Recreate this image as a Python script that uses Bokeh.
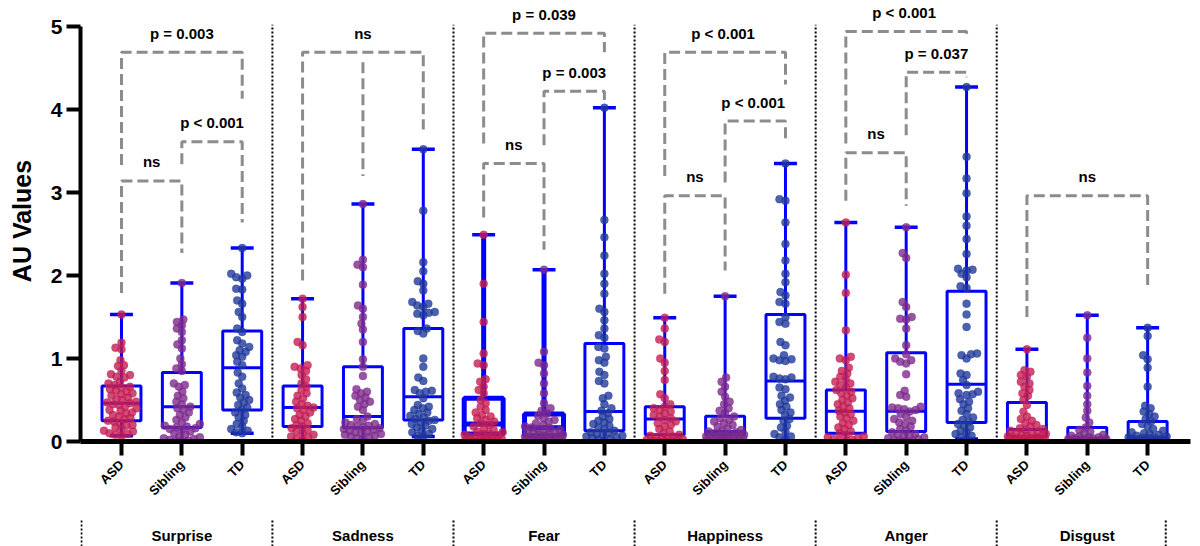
import math
from bokeh.plotting import figure
from bokeh.models import Range1d, FixedTicker
from bokeh.layouts import column
from bokeh.embed import file_html
from bokeh.resources import INLINE
from bokeh.core.properties import value

# ---------------- data ----------------
emotions = ["Surprise", "Sadness", "Fear", "Happiness", "Anger", "Disgust"]
cohorts = ["ASD", "Sibling", "TD"]

surprise_asd = [1.53, 1.19, 1.13, 1.11, 0.98, 0.92, 0.91, 0.85, 0.81, 0.80, 0.78, 0.77, 0.72, 0.70, 0.68, 0.66, 0.65, 0.63, 0.61, 0.60, 0.58, 0.57, 0.55, 0.53, 0.51, 0.50, 0.48, 0.47, 0.46, 0.45, 0.44, 0.42, 0.40, 0.38, 0.37, 0.35, 0.34, 0.32, 0.30, 0.28, 0.27, 0.25, 0.24, 0.22, 0.20, 0.19, 0.17, 0.15, 0.13, 0.12, 0.10, 0.09, 0.08, 0.07]
surprise_sib = [1.91, 1.47, 1.44, 1.40, 1.36, 1.32, 1.22, 1.17, 1.12, 1.00, 0.93, 0.88, 0.85, 0.70, 0.68, 0.66, 0.60, 0.55, 0.52, 0.48, 0.45, 0.42, 0.40, 0.38, 0.35, 0.32, 0.29, 0.26, 0.23, 0.21, 0.19, 0.18, 0.17, 0.16, 0.15, 0.14, 0.12, 0.10, 0.08, 0.06, 0.05, 0.04, 0.03, 0.02, 0.01, 0.01, 0.0]
surprise_td = [2.33, 2.02, 2.00, 1.98, 1.96, 1.84, 1.83, 1.70, 1.66, 1.56, 1.50, 1.36, 1.32, 1.22, 1.18, 1.14, 1.10, 1.08, 1.04, 1.02, 0.96, 0.92, 0.83, 0.78, 0.70, 0.64, 0.59, 0.56, 0.53, 0.50, 0.47, 0.44, 0.41, 0.38, 0.35, 0.32, 0.29, 0.25, 0.21, 0.18, 0.15, 0.13, 0.11, 0.10]

sadness_asd = [1.72, 1.62, 1.50, 1.20, 1.16, 0.92, 0.90, 0.88, 0.85, 0.80, 0.75, 0.70, 0.66, 0.62, 0.58, 0.55, 0.52, 0.48, 0.45, 0.43, 0.41, 0.40, 0.38, 0.35, 0.32, 0.30, 0.27, 0.25, 0.22, 0.20, 0.18, 0.16, 0.14, 0.12, 0.10, 0.08, 0.06, 0.05, 0.03, 0.02]
sadness_sib = [2.86, 2.19, 2.13, 2.10, 1.89, 1.64, 1.60, 1.50, 1.42, 1.35, 1.20, 0.99, 0.90, 0.79, 0.63, 0.60, 0.58, 0.55, 0.53, 0.50, 0.48, 0.45, 0.42, 0.38, 0.30, 0.27, 0.25, 0.23, 0.21, 0.20, 0.19, 0.18, 0.17, 0.16, 0.15, 0.14, 0.13, 0.12, 0.11, 0.10, 0.09, 0.08, 0.07, 0.06, 0.05, 0.04, 0.03]
sadness_td = [3.52, 2.78, 2.16, 2.05, 1.93, 1.90, 1.82, 1.68, 1.66, 1.64, 1.62, 1.56, 1.55, 1.54, 1.52, 1.36, 1.33, 1.30, 1.00, 0.90, 0.77, 0.73, 0.62, 0.61, 0.60, 0.58, 0.52, 0.44, 0.42, 0.40, 0.38, 0.35, 0.33, 0.31, 0.29, 0.27, 0.26, 0.25, 0.23, 0.21, 0.19, 0.17, 0.15, 0.13, 0.11, 0.09, 0.07, 0.06]

fear_asd = [2.49, 1.90, 1.44, 1.06, 0.94, 0.92, 0.75, 0.72, 0.66, 0.62, 0.58, 0.50, 0.46, 0.42, 0.38, 0.35, 0.32, 0.30, 0.28, 0.26, 0.24, 0.22, 0.20, 0.18, 0.16, 0.14, 0.12, 0.11, 0.10, 0.09, 0.08, 0.07, 0.06, 0.05, 0.05, 0.04, 0.03, 0.03, 0.02, 0.02, 0.01, 0.01, 0.0, 0.0]
fear_sib = [2.07, 1.08, 0.95, 0.92, 0.82, 0.70, 0.58, 0.46, 0.40, 0.37, 0.34, 0.31, 0.28, 0.26, 0.24, 0.22, 0.20, 0.18, 0.17, 0.16, 0.15, 0.14, 0.13, 0.12, 0.11, 0.10, 0.09, 0.08, 0.08, 0.07, 0.06, 0.06, 0.05, 0.05, 0.04, 0.04, 0.03, 0.03, 0.02, 0.02, 0.01, 0.01, 0.0, 0.0]
fear_td = [4.02, 2.67, 2.46, 2.24, 2.02, 1.90, 1.78, 1.60, 1.56, 1.46, 1.36, 1.28, 1.25, 1.14, 1.12, 1.02, 0.98, 0.95, 0.84, 0.80, 0.73, 0.70, 0.55, 0.52, 0.45, 0.40, 0.37, 0.34, 0.30, 0.27, 0.25, 0.23, 0.21, 0.19, 0.17, 0.15, 0.13, 0.11, 0.10, 0.09, 0.08, 0.07, 0.06, 0.05, 0.04, 0.03, 0.02, 0.01]

happiness_asd = [1.49, 1.36, 1.23, 1.20, 1.00, 0.95, 0.85, 0.74, 0.57, 0.52, 0.45, 0.42, 0.40, 0.38, 0.36, 0.34, 0.32, 0.30, 0.28, 0.26, 0.24, 0.22, 0.20, 0.18, 0.15, 0.12, 0.10, 0.08, 0.07, 0.06, 0.05, 0.04, 0.03, 0.03, 0.02, 0.02, 0.01, 0.01, 0.0, 0.0]
happiness_sib = [1.75, 0.77, 0.72, 0.66, 0.60, 0.54, 0.48, 0.45, 0.40, 0.37, 0.34, 0.30, 0.28, 0.26, 0.24, 0.22, 0.20, 0.18, 0.16, 0.14, 0.13, 0.12, 0.11, 0.10, 0.09, 0.08, 0.07, 0.07, 0.06, 0.06, 0.05, 0.05, 0.04, 0.04, 0.03, 0.03, 0.02, 0.02, 0.01, 0.01, 0.0, 0.0]
happiness_td = [3.35, 2.92, 2.90, 2.64, 2.38, 2.18, 2.02, 1.92, 1.80, 1.76, 1.68, 1.66, 1.50, 1.44, 1.42, 1.20, 1.16, 1.04, 1.00, 0.99, 0.98, 0.97, 0.78, 0.77, 0.76, 0.75, 0.65, 0.63, 0.55, 0.53, 0.49, 0.45, 0.42, 0.38, 0.35, 0.32, 0.27, 0.25, 0.19, 0.17, 0.12, 0.09, 0.06, 0.05, 0.03]

anger_asd = [2.64, 2.01, 1.79, 1.34, 1.02, 1.00, 0.98, 0.89, 0.85, 0.82, 0.78, 0.75, 0.72, 0.70, 0.68, 0.65, 0.62, 0.60, 0.58, 0.55, 0.52, 0.50, 0.47, 0.45, 0.42, 0.40, 0.37, 0.35, 0.33, 0.30, 0.28, 0.25, 0.22, 0.20, 0.17, 0.15, 0.12, 0.10, 0.08, 0.06, 0.05, 0.04, 0.03, 0.02, 0.01, 0.0]
anger_sib = [2.58, 2.27, 2.21, 1.68, 1.62, 1.50, 1.48, 1.47, 1.36, 1.16, 1.05, 1.00, 0.98, 0.96, 0.94, 0.81, 0.61, 0.56, 0.54, 0.42, 0.41, 0.40, 0.39, 0.38, 0.36, 0.33, 0.30, 0.27, 0.25, 0.23, 0.21, 0.18, 0.15, 0.13, 0.11, 0.09, 0.08, 0.07, 0.06, 0.05, 0.04, 0.03, 0.02, 0.01, 0.01, 0.0]
anger_td = [4.27, 3.43, 3.17, 2.99, 2.71, 2.60, 2.44, 2.26, 2.08, 2.07, 2.06, 2.02, 1.98, 1.87, 1.85, 1.66, 1.53, 1.38, 1.06, 1.05, 1.04, 1.00, 0.82, 0.80, 0.74, 0.68, 0.60, 0.58, 0.57, 0.56, 0.51, 0.48, 0.45, 0.40, 0.37, 0.33, 0.29, 0.26, 0.24, 0.21, 0.19, 0.17, 0.13, 0.11, 0.09, 0.07, 0.05, 0.03]

disgust_asd = [1.11, 0.86, 0.84, 0.80, 0.78, 0.72, 0.70, 0.66, 0.62, 0.58, 0.55, 0.50, 0.44, 0.36, 0.30, 0.27, 0.25, 0.22, 0.20, 0.18, 0.16, 0.15, 0.14, 0.13, 0.12, 0.11, 0.10, 0.09, 0.08, 0.07, 0.06, 0.06, 0.05, 0.05, 0.04, 0.04, 0.03, 0.03, 0.02, 0.02, 0.01, 0.01, 0.0, 0.0]
disgust_sib = [1.52, 1.25, 1.00, 0.83, 0.67, 0.55, 0.45, 0.37, 0.29, 0.23, 0.17, 0.14, 0.12, 0.10, 0.08, 0.07, 0.06, 0.05, 0.05, 0.04, 0.04, 0.03, 0.03, 0.03, 0.02, 0.02, 0.02, 0.01, 0.01, 0.01, 0.01, 0.0, 0.0, 0.0, 0.0, 0.0, 0.0, 0.0]
disgust_td = [1.37, 1.27, 1.04, 0.99, 0.89, 0.66, 0.43, 0.40, 0.36, 0.33, 0.30, 0.27, 0.24, 0.21, 0.18, 0.15, 0.13, 0.11, 0.10, 0.09, 0.08, 0.07, 0.06, 0.05, 0.05, 0.04, 0.04, 0.03, 0.03, 0.02, 0.02, 0.02, 0.01, 0.01, 0.01, 0.0, 0.0, 0.0, 0.0, 0.0]

# box statistics (order: emotion-major, cohort-minor)
box_min = [0.07, 0.01, 0.10, 0.01, 0.01, 0.06, 0.02, 0.00, 0.00, 0.00, 0.00, 0.00, 0.00, 0.00, 0.03, 0.00, 0.00, 0.00]
box_q1 = [0.25, 0.17, 0.38, 0.18, 0.165, 0.26, 0.09, 0.07, 0.13, 0.08, 0.08, 0.28, 0.10, 0.12, 0.23, 0.06, 0.01, 0.02]
box_med = [0.46, 0.42, 0.89, 0.41, 0.30, 0.54, 0.21, 0.165, 0.36, 0.27, 0.12, 0.73, 0.365, 0.365, 0.69, 0.145, 0.04, 0.05]
box_q3 = [0.67, 0.83, 1.33, 0.67, 0.90, 1.36, 0.52, 0.33, 1.18, 0.42, 0.305, 1.53, 0.62, 1.07, 1.81, 0.47, 0.17, 0.24]
box_max = [1.53, 1.91, 2.33, 1.72, 2.86, 3.52, 2.49, 2.07, 4.02, 1.49, 1.75, 3.35, 2.64, 2.58, 4.27, 1.11, 1.52, 1.37]

# significance brackets (indices into the 18 boxes)
br_left = [0, 1, 0, 3, 6, 7, 6, 9, 10, 9, 12, 13, 12, 15]
br_right = [2, 2, 1, 5, 8, 8, 7, 11, 11, 10, 14, 14, 13, 17]
br_top = [4.69, 3.61, 3.14, 4.69, 4.92, 4.22, 3.35, 4.69, 3.86, 2.96, 4.94, 4.45, 3.48, 2.96]
br_left_end = [3.33, 3.34, 1.79, 1.94, 3.59, 3.57, 2.70, 3.20, 3.12, 1.78, 3.59, 3.69, 2.90, 1.50]
br_right_end = [4.13, 2.64, 2.27, 3.76, 4.69, 4.08, 2.31, 4.30, 3.63, 2.06, 4.88, 4.39, 2.84, 1.84]
br_label = ["p = 0.003", "p < 0.001", "ns", "ns", "p = 0.039", "p = 0.003", "ns",
            "p  < 0.001", "p  < 0.001", "ns", "p  < 0.001", "p = 0.037", "ns", "ns"]
# extra leg for the Sadness bracket (box index, from, to)
leg_box = [4]
leg_from = [4.57]
leg_to = [3.20]

dots = [surprise_asd, surprise_sib, surprise_td,
        sadness_asd, sadness_sib, sadness_td,
        fear_asd, fear_sib, fear_td,
        happiness_asd, happiness_sib, happiness_td,
        anger_asd, anger_sib, anger_td,
        disgust_asd, disgust_sib, disgust_td]

# ---------------- styling / layout ----------------
W, H1, H2 = 1200, 511, 35
LEFT, RIGHT, BOTTOM = 80, 10, 70
X0, X1 = -0.679, 17.71
Y1 = 441 / 83.0
PX_X = (W - LEFT - RIGHT) / (X1 - X0)
PX_Y = 83.0
dot_colors = ["#C41E52", "#7E2A8C", "#21399A"]
BOX_HALF = 0.3225
CAP_HALF = 0.19
BLUE = "#0000FF"
FONT = "Liberation Sans"
box_line_w = [3, 3, 3, 3, 3, 3, 5, 5, 3, 3, 3, 3, 3, 3, 3, 3, 3, 3]
SWARM_D = 6.0      # px spacing between dot centres
SWARM_MAX = 19.0   # px max horizontal spread


def swarm(vals):
    order = sorted(range(len(vals)), key=lambda i: vals[i])
    placed = []
    offs = [0.0] * len(vals)
    grid = [k * 0.5 for k in range(-int(SWARM_MAX * 2), int(SWARM_MAX * 2) + 1)]
    grid.sort(key=lambda c: (abs(c), c))
    for i in order:
        y = vals[i] * PX_Y
        near = [(xo, yo) for xo, yo in placed if abs(y - yo) < SWARM_D]
        best, best_score = 0.0, -1.0
        for c in grid:
            md = min([math.hypot(c - xo, y - yo) for xo, yo in near] + [1e9])
            if md >= SWARM_D:
                best = c
                break
            if md > best_score + 1e-9:
                best, best_score = c, md
        offs[i] = best / PX_X
        placed.append((best, y))
    return offs


x_range = Range1d(X0, X1)
p = figure(width=W, height=H1, x_range=x_range, y_range=Range1d(0, Y1),
           output_backend="svg", toolbar_location=None,
           min_border_left=LEFT, min_border_right=RIGHT, min_border_top=0, min_border_bottom=BOTTOM)
p.xgrid.visible = False
p.ygrid.visible = False
p.outline_line_color = None
p.background_fill_color = "white"

pos = list(range(len(box_med)))

# separators inside the plot
sep_x = [g * 3 + 2.5 for g in range(len(emotions) - 1)]
p.segment(x0=sep_x, y0=[0] * len(sep_x), x1=sep_x, y1=[5.02] * len(sep_x),
          line_color="black", line_width=2, line_dash="2 2")

# boxes
lx = [x - BOX_HALF for x in pos]
rx = [x + BOX_HALF for x in pos]
p.quad(left=lx, right=rx, bottom=box_q1, top=box_q3, fill_alpha=0, line_color=BLUE, line_width=box_line_w)
p.segment(x0=lx, y0=box_med, x1=rx, y1=box_med, line_color=BLUE, line_width=box_line_w)
p.segment(x0=pos, y0=box_q3, x1=pos, y1=box_max, line_color=BLUE, line_width=box_line_w)
p.segment(x0=pos, y0=box_q1, x1=pos, y1=box_min, line_color=BLUE, line_width=box_line_w)
p.segment(x0=[x - CAP_HALF for x in pos], y0=box_max, x1=[x + CAP_HALF for x in pos], y1=box_max,
          line_color=BLUE, line_width=3.5)
p.segment(x0=[x - CAP_HALF for x in pos], y0=box_min, x1=[x + CAP_HALF for x in pos], y1=box_min,
          line_color=BLUE, line_width=3.5)

# dots
for i, vals in enumerate(dots):
    offs = swarm(vals)
    p.scatter(x=[i + o for o in offs], y=vals, size=8, fill_color=dot_colors[i % 3],
              fill_alpha=0.8, line_color=dot_colors[i % 3], line_alpha=0.3)

# brackets
xs, ys = [], []
for l, r, t, le, re_ in zip(br_left, br_right, br_top, br_left_end, br_right_end):
    xs.append([l, l, r, r])
    ys.append([le, t, t, re_])
for b, f, t in zip(leg_box, leg_from, leg_to):
    xs.append([b, b])
    ys.append([f, t])
p.multi_line(xs=xs, ys=ys, line_color="#8C8C8C", line_width=3, line_dash="11 5")
p.text(x=[(l + r) / 2 for l, r in zip(br_left, br_right)], y=[t + 0.23 for t in br_top], text=br_label,
       text_align="center", text_baseline="middle", text_font=value(FONT),
       text_font_size="15px", text_font_style="bold", text_color="black")

# axes
ya = p.yaxis[0]
ya.ticker = FixedTicker(ticks=[0, 1, 2, 3, 4, 5], minor_ticks=[])
ya.bounds = (0, 5)
ya.axis_label = "AU Values"
ya.axis_label_text_font = FONT
ya.axis_label_text_font_size = "25px"
ya.axis_label_text_font_style = "bold"
ya.axis_label_text_color = "black"
ya.axis_label_standoff = 12
ya.major_label_text_font = FONT
ya.major_label_text_font_size = "21px"
ya.major_label_text_font_style = "bold"
ya.major_label_text_color = "black"
ya.major_label_standoff = 4
ya.axis_line_width = 4
ya.axis_line_color = "black"
ya.major_tick_out = 14
ya.major_tick_in = 0
ya.major_tick_line_width = 4
ya.major_tick_line_color = "black"
ya.minor_tick_line_color = None

xa = p.xaxis[0]
xa.ticker = FixedTicker(ticks=pos, minor_ticks=[])
xa.major_label_overrides = {i: cohorts[i % 3] for i in pos}
xa.major_label_orientation = math.pi / 4
xa.major_label_text_font = FONT
xa.major_label_text_font_size = "13px"
xa.major_label_text_font_style = "bold"
xa.major_label_text_color = "black"
xa.major_label_standoff = 7
xa.axis_line_width = 5
xa.axis_line_color = "black"
xa.major_tick_out = 14
xa.major_tick_in = 0
xa.major_tick_line_width = 4
xa.major_tick_line_color = "black"
xa.minor_tick_line_color = None

# group label strip
p2 = figure(width=W, height=H2, x_range=x_range, y_range=Range1d(0, 1),
            output_backend="svg", toolbar_location=None, x_axis_type=None, y_axis_type=None,
            min_border_left=LEFT, min_border_right=RIGHT, min_border_top=0, min_border_bottom=0)
p2.xgrid.visible = False
p2.ygrid.visible = False
p2.outline_line_color = None
group_sep = [X0 + 0.015] + sep_x + [17.3]
p2.segment(x0=group_sep, y0=[0] * len(group_sep), x1=group_sep, y1=[0.75] * len(group_sep),
           line_color="black", line_width=2, line_dash="2 2")
p2.text(x=[g * 3 + 1 for g in range(len(emotions))], y=[0.32] * len(emotions), text=emotions,
        text_align="center", text_baseline="middle", text_font=value(FONT),
        text_font_size="15px", text_font_style="bold", text_color="black")

layout = column(p, p2)
open("out.html", "w").write(file_html(layout, INLINE))
